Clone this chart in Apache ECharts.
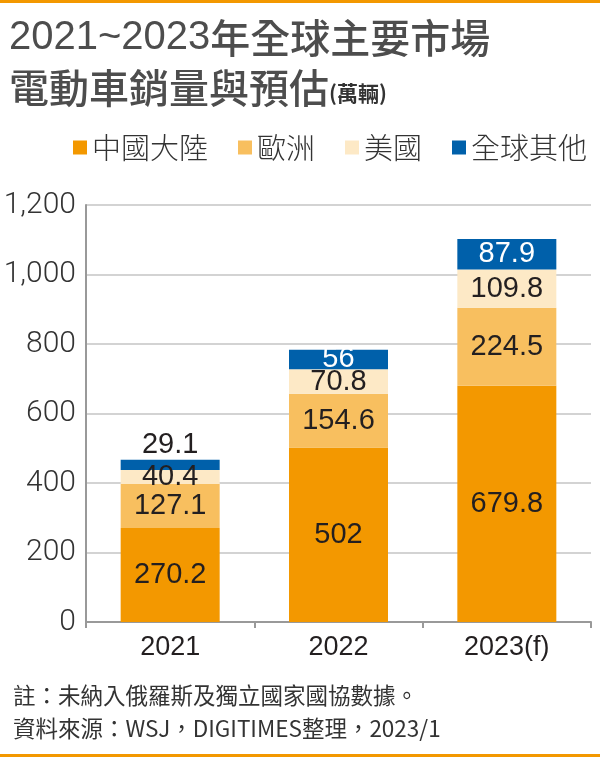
<!DOCTYPE html>
<html>
<head>
<meta charset="utf-8">
<script src="https://cdn.jsdelivr.net/npm/echarts@6/dist/echarts.min.js"></script>
<style>
  html, body { margin: 0; padding: 0; background: #fff; }
  #chart { width: 600px; height: 757px; }
</style>
</head>
<body>
<div id="chart"></div>
<script>
// --- 資料 ---
const years = ['2021', '2022', '2023(f)'];
const seriesNames = ['中國大陸', '歐洲', '美國', '全球其他'];
const china = [270.2, 502, 679.8];
const europe = [127.1, 154.6, 224.5];
const usa = [40.4, 70.8, 109.8];
const others = [29.1, 56, 87.9];
const yTicks = { min: 0, max: 1200, interval: 200 };

const colors = ['#f39800', '#f8bf5f', '#fde9c6', '#0060aa'];
const numFont = 'Liberation Sans, Arial, sans-serif';
const cjkFont = 'Noto Sans CJK TC, Noto Sans CJK SC, sans-serif';
const labelDark = '#231f20';

const chart = echarts.init(document.getElementById('chart'));

function seg(name, values, color) {
  return {
    name, type: 'bar', stack: 'total', barWidth: 99,
    itemStyle: { color },
    label: {
      show: true, position: 'inside',
      color: labelDark, fontSize: 29, fontFamily: numFont,
    },
    data: values,
  };
}

const series = [
  seg(seriesNames[0], china, colors[0]),
  seg(seriesNames[1], europe, colors[1]),
  seg(seriesNames[2], usa, colors[2]),
  seg(seriesNames[3], others, colors[3]),
];
// 2021 全球其他 標在柱頂, 其餘白字
series[3].label.color = '#fff';
series[3].data = others.map((v, i) => i === 0
  ? { value: v, label: { position: 'top', distance: 0, color: labelDark } }
  : v);

chart.setOption({
  animation: false,
  title: [
    {
      left: 4, top: 13,
      text: '{a|2021~2023}{b|年全球主要市場}',
      textStyle: {
        rich: {
          a: { fontSize: 40, color: '#4d4d4d', fontFamily: numFont, fontWeight: 'normal' },
          b: { fontSize: 40, color: '#4d4d4d', fontFamily: cjkFont, fontWeight: 500 },
        },
      },
    },
    {
      left: 4, top: 59,
      text: '{b|電動車銷量與預估}{c|(萬輛)}',
      textStyle: {
        rich: {
          b: { fontSize: 40, color: '#4d4d4d', fontFamily: cjkFont, fontWeight: 500, verticalAlign: 'bottom', height: 48 },
          c: { fontSize: 21, color: '#333', fontFamily: cjkFont, fontWeight: 'bold', verticalAlign: 'bottom', height: 38 },
        },
      },
    },
    {
      left: 8, top: 679,
      text: '註：未納入俄羅斯及獨立國家國協數據。',
      textStyle: { fontSize: 22.5, fontWeight: 'normal', color: '#333', fontFamily: cjkFont },
    },
    {
      left: 8, top: 712,
      text: '資料來源：WSJ，DIGITIMES整理，2023/1',
      textStyle: { fontSize: 22.5, fontWeight: 'normal', color: '#333', fontFamily: cjkFont },
    },
  ],
  graphic: [
    { type: 'rect', shape: { x: 0, y: 0, width: 600, height: 3 }, style: { fill: '#f39800' } },
    { type: 'rect', shape: { x: 0, y: 754, width: 600, height: 3 }, style: { fill: '#f39800' } },
  ],
  legend: {
    left: 68, top: 128,
    icon: 'rect', itemWidth: 14, itemHeight: 14, itemGap: 30,
    data: seriesNames,
    textStyle: { fontSize: 29, color: '#333', fontFamily: cjkFont, fontWeight: 300 },
  },
  grid: { left: 86, right: 9, top: 205, bottom: 135 },
  xAxis: {
    type: 'category',
    data: years,
    axisLine: { lineStyle: { color: '#999', width: 2 } },
    axisTick: { show: true, length: 6, lineStyle: { color: '#999', width: 2 } },
    axisLabel: { color: labelDark, fontSize: 27, fontFamily: numFont, margin: 12 },
  },
  yAxis: {
    type: 'value',
    min: yTicks.min, max: yTicks.max, interval: yTicks.interval,
    axisLine: { show: true, lineStyle: { color: '#999', width: 2 } },
    axisTick: { show: false },
    axisLabel: {
      color: '#333', fontSize: 30, fontFamily: 'Roboto, Liberation Sans, sans-serif', fontWeight: 300, margin: 10,
      formatter: v => v.toLocaleString('en-US'),
    },
    splitLine: { lineStyle: { color: '#c4c4c4', width: 1.5 } },
  },
  series,
});
</script>
</body>
</html>
